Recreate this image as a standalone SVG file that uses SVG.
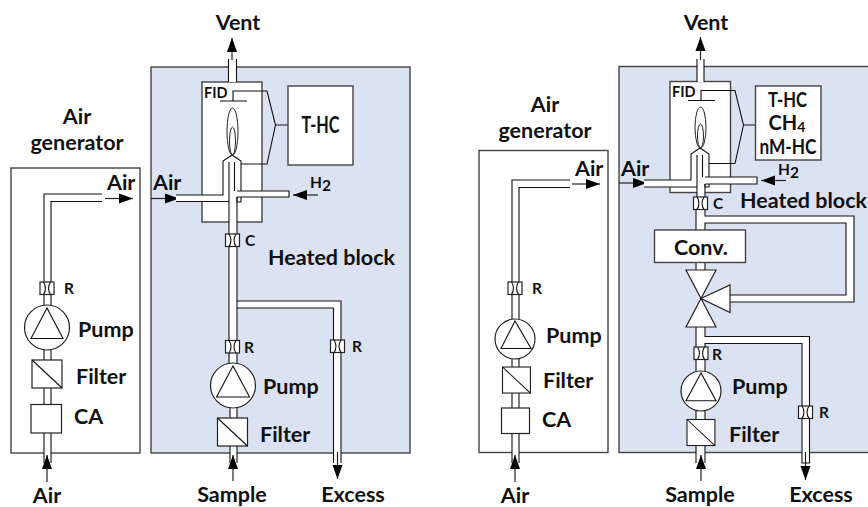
<svg xmlns="http://www.w3.org/2000/svg" width="868" height="507" viewBox="0 0 868 507">
<style>
text{font-family:"Lato","Open Sans","Liberation Sans",sans-serif;font-weight:700;fill:#111}
.t{font-size:21.5px}
.n{font-size:22px}
.m{text-anchor:middle}
.s{font-size:15.5px}
.box{fill:#fff;stroke:#444;stroke-width:1.4}
.heat{fill:#dbe2f1;stroke:#444;stroke-width:1.4}
.f{fill:#fff;stroke:none}
.l{fill:none;stroke:#111;stroke-width:1.1}
.e{fill:none;stroke:#222;stroke-width:1}
.g{fill:none;stroke:#444;stroke-width:1.3}
.w{fill:#fff;stroke:#222;stroke-width:1.2}
.a{fill:none;stroke:#222;stroke-width:1.2;marker-end:url(#ah)}
</style>
<defs>
<marker id="ah" markerUnits="userSpaceOnUse" markerWidth="16" markerHeight="14" refX="14" refY="6" orient="auto"><path d="M0 1 L14 6 L0 11Z" fill="#000"/></marker>
<g id="rs"><rect class="w" x="0" y="0" width="14" height="12.5"/><path class="l" d="M3.500 0Q7.500 6.250 3.500 12.500M10.500 0Q6.500 6.250 10.500 12.500"/></g>
<g id="fl"><rect class="w" x="0" y="0" width="30" height="28"/><path class="l" d="M0 0L30 28"/></g>
</defs>

<g id="panels">
<rect id="air-generator-left-box" class="box" x="11" y="168" width="129" height="285"/>
<rect id="heated-block-left-box" class="heat" x="151" y="67" width="259" height="386"/>
<rect id="air-generator-right-box" class="box" x="479" y="150.500" width="129" height="302"/>
<rect id="heated-block-right-box" class="heat" x="619" y="66.500" width="255" height="386"/>
</g>

<g id="node-fid-left">
<rect class="box" x="202" y="82" width="60" height="140"/>
<text x="204" y="98" font-size="14.500">FID</text>
<path class="l" d="M220 101H247M233 101V91H267L275.500 125L267 164H234"/>
<ellipse class="e" cx="232.500" cy="131.500" rx="5.500" ry="23.500"/>
<ellipse class="e" cx="232.500" cy="141" rx="3" ry="14"/>
<path class="g" d="M275.500 125H288"/>
</g>
<g id="node-fid-right">
<rect class="box" x="670" y="81.500" width="60.500" height="111"/>
<text x="672" y="97" font-size="14.500">FID</text>
<path class="l" d="M688 100.500H715M701 100.500V90.500H735L743.500 125L735 163.500H702"/>
<ellipse class="e" cx="700.500" cy="127.500" rx="5.500" ry="20.500"/>
<ellipse class="e" cx="700.500" cy="136" rx="3" ry="12"/>
<path class="g" d="M743.500 125H756"/>
</g>

<g id="connectors">
<!-- left generator -->
<path class="f" d="M44 194H102V201.500H51V405H44Z"/>
<path class="l" d="M102 194H44V282M102 201.500H51V282M44 295V306M51 295V306"/>
<path class="f" d="M44 349H51V361H44ZM44 387H51V405H44ZM44 432H51V463H44Z"/>
<path class="l" d="M44 349V361M51 349V361M44 387V405M51 387V405M44 432V463M51 432V463"/>
<path class="a" d="M105 198.500H133"/>
<path class="a" d="M47 482V455"/>
<!-- left heated block -->
<path class="f" d="M228 59H237V82H228Z"/>
<path class="l" d="M228.500 59V82M236.500 59V82"/>
<path class="a" d="M232 60V38"/>
<path class="a" d="M151 198.500H179"/>
<path class="f" d="M176 195H223V161L232 155L241 161V191H289V197H241V202H237V340H229V201.500H176Z"/>
<path class="l" d="M176 195H223V161L232 155L241 161V191M176 201.500H229M237 197V202H241V197"/>
<path class="l" d="M237 191H289V197H237"/>
<path class="l" d="M229 162V234M234.500 162V191M237 197V234"/>
<path class="f" d="M237 301H341V340H333.500V308H237Z"/>
<path class="l" d="M237 301H341V340M237 308H333.500V340"/>
<path class="f" d="M333.500 353H341V463H333.500Z"/>
<path class="l" d="M333.500 353V463M341 353V463"/>
<path class="a" d="M337.500 452V479"/>
<path class="f" d="M229 246H237V340H229ZM229 353H237V364H229ZM230 407H237V419H230ZM230 446H237V463H230Z"/>
<path class="l" d="M229 246V340M237 246V340M229 353V364M237 353V364M230 407V419M237 407V419M230 446V463M237 446V463"/>
<path class="a" d="M233 481V455"/>
<path class="a" d="M318 195H293"/>
<!-- right generator -->
<path class="f" d="M512 180H570V187.500H519V408H512Z"/>
<path class="l" d="M570 180H512V282M570 187.500H519V282M512 294.500V319M519 294.500V319"/>
<path class="f" d="M512 359H519V368H512ZM512 393H519V408H512ZM512 433H519V463H512Z"/>
<path class="l" d="M512 359V368M519 359V368M512 393V408M519 393V408M512 433V463M519 433V463"/>
<path class="a" d="M572 184H600"/>
<path class="a" d="M515 482V455"/>
<!-- right heated block -->
<path class="f" d="M697 59H704V82H697Z"/>
<path class="l" d="M697 59V82M704 59V82"/>
<path class="a" d="M700.500 60V37"/>
<path class="a" d="M619 183H647"/>
<path class="f" d="M644 180H691V154L700 148L709 154V177H757V184H709V187H705V197H697V187H644Z"/>
<path class="l" d="M644 180H691V154L700 148L709 154V177M644 187H697M705 184V187H709V184"/>
<path class="l" d="M705 177H757V184H705"/>
<path class="l" d="M697 155V197M702.500 155V177M705 184V197"/>
<path class="f" d="M696 210H705V230H696ZM705 216H854V302H730V295H846V223H705Z"/>
<path class="l" d="M696 210V230M705 210V216H854V302H726M705 230V223H846V295H726"/>
<path class="f" d="M696 262H705V272H696Z"/>
<path class="l" d="M696 262V272M705 262V272"/>
<path class="f" d="M696 325H705V347H696ZM705 336.500H809.500V406H802V343.500H705ZM696 360H705V372H696Z"/>
<path class="l" d="M696 327V347M705 327V336.500H809.500V406M705 347V343.500H802V406M696 360V372M705 360V372"/>
<path class="f" d="M802 418H809.500V463H802ZM696 410H705V420H696ZM696 445H705V463H696Z"/>
<path class="l" d="M802 418V463H809.500V418M696 410V420M705 410V420M696 445V463M705 445V463"/>
<path class="a" d="M805.500 452V480"/>
<path class="a" d="M701 481V455"/>
<path class="a" d="M786 180.500H761"/>
</g>

<g id="node-vent-left"><text class="t m" x="238" y="30">Vent</text></g>
<g id="node-air-generator-left"><text class="t m" x="77" y="124">Air</text><text class="t m" x="77" y="150">generator</text></g>
<g id="node-air-out-left"><text class="t" x="107" y="190">Air</text></g>
<g id="node-air-in-left"><text class="t" x="153" y="190">Air</text></g>
<g id="node-h2-left"><text class="s" x="310" y="188">H<tspan dy="3">2</tspan></text></g>
<g id="node-thc-left"><rect class="box" x="288" y="86" width="65" height="79"/><text class="n m" x="320.500" y="133" textLength="38" lengthAdjust="spacingAndGlyphs">T-HC</text></g>
<g id="node-c-left"><use href="#rs" x="225.500" y="234"/><text class="s" x="245" y="246">C</text></g>
<g id="node-heated-left"><text class="t" x="268" y="265">Heated block</text></g>
<g id="node-r-gen-left"><use href="#rs" x="40" y="282"/><text class="s" x="64" y="294">R</text></g>
<g id="node-pump-gen-left"><circle class="w" cx="47" cy="327.500" r="22.500"/><path class="l" d="M47 308L31 338.500H63Z"/><text class="t" x="78" y="337">Pump</text></g>
<g id="node-filter-gen-left"><use href="#fl" x="32" y="360"/><text class="t" x="76" y="384">Filter</text></g>
<g id="node-ca-left"><rect class="w" x="31" y="404.500" width="30.500" height="28.500"/><text class="t" x="74" y="424">CA</text></g>
<g id="node-r-main-left"><use href="#rs" x="225.500" y="340.500"/><text class="s" x="244" y="353">R</text></g>
<g id="node-r-branch-left"><use href="#rs" x="330.500" y="340"/><text class="s" x="352" y="352">R</text></g>
<g id="node-pump-left"><circle class="w" cx="233" cy="385.500" r="22.500"/><path class="l" d="M233 366L216.500 397H249.500Z"/><text class="t" x="263" y="394">Pump</text></g>
<g id="node-filter-left"><use href="#fl" x="217.500" y="418"/><text class="t" x="260" y="442">Filter</text></g>
<g id="node-air-left"><text class="t m" x="47" y="503">Air</text></g>
<g id="node-sample-left"><text class="t m" x="232" y="502">Sample</text></g>
<g id="node-excess-left"><text class="t m" x="353" y="502">Excess</text></g>

<g id="node-vent-right"><text class="t m" x="706" y="30">Vent</text></g>
<g id="node-air-generator-right"><text class="t m" x="545" y="112">Air</text><text class="t m" x="545" y="138">generator</text></g>
<g id="node-air-out-right"><text class="t" x="575" y="176">Air</text></g>
<g id="node-air-in-right"><text class="t" x="621" y="176">Air</text></g>
<g id="node-h2-right"><text class="s" x="778" y="175">H<tspan dy="3">2</tspan></text></g>
<g id="node-thc-right"><rect class="box" x="755.500" y="86" width="65.500" height="74"/><text class="m" font-size="20" x="787.500" y="107" textLength="39" lengthAdjust="spacingAndGlyphs">T-HC</text><text class="m" font-size="20" x="787" y="130">CH<tspan font-size="14" dy="2">4</tspan></text><text class="m" font-size="20" x="788" y="154" textLength="57" lengthAdjust="spacingAndGlyphs">nM-HC</text></g>
<g id="node-c-right"><use href="#rs" x="693.500" y="197"/><text class="s" x="713" y="209">C</text></g>
<g id="node-heated-right"><text class="t" x="740" y="208">Heated block</text></g>
<g id="node-conv"><rect class="box" x="654.500" y="230" width="91" height="32.500"/><text class="t m" x="701" y="255">Conv.</text></g>
<g id="node-valve">
<path class="w" d="M686 270H716L701 298.500Z"/>
<path class="w" d="M701 298.500L730 285V312.500Z"/>
<path class="w" d="M701 298.500L686 327H716Z"/>
</g>
<g id="node-r-gen-right"><use href="#rs" x="508" y="282"/><text class="s" x="532" y="294">R</text></g>
<g id="node-pump-gen-right"><circle class="w" cx="515" cy="339" r="20"/><path class="l" d="M515 321L501 348.500H531Z"/><text class="t" x="546" y="343">Pump</text></g>
<g id="node-filter-gen-right"><use href="#fl" transform="translate(502.500 367) scale(.93)"/><text class="t" x="543" y="388">Filter</text></g>
<g id="node-ca-right"><rect class="w" x="501.500" y="408" width="28" height="25.500"/><text class="t" x="542" y="427">CA</text></g>
<g id="node-r-main-right"><use href="#rs" x="694" y="347"/><text class="s" x="712" y="360">R</text></g>
<g id="node-r-branch-right"><use href="#rs" x="798.500" y="406"/><text class="s" x="819" y="418">R</text></g>
<g id="node-pump-right"><circle class="w" cx="701" cy="391" r="20"/><path class="l" d="M701 373L686 400.700H716Z"/><text class="t" x="732" y="394">Pump</text></g>
<g id="node-filter-right"><use href="#fl" transform="translate(687 419.500) scale(.93)"/><text class="t" x="729" y="442">Filter</text></g>
<g id="node-air-right"><text class="t m" x="515" y="503">Air</text></g>
<g id="node-sample-right"><text class="t m" x="700" y="502">Sample</text></g>
<g id="node-excess-right"><text class="t m" x="821" y="502">Excess</text></g>
</svg>
